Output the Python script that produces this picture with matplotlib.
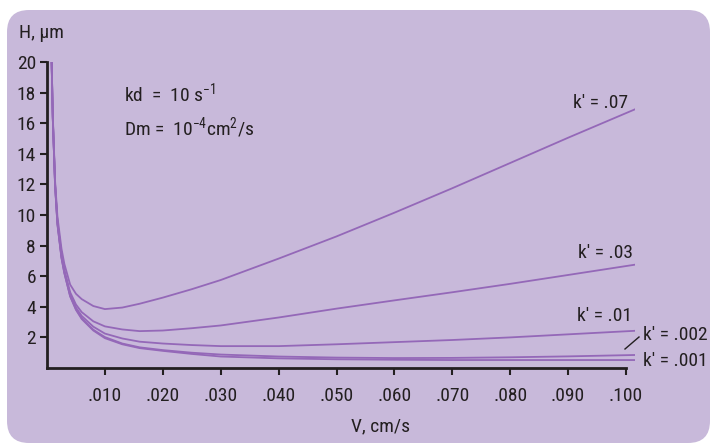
import matplotlib
matplotlib.use('Agg')
import matplotlib.pyplot as plt
from matplotlib.patches import FancyBboxPatch
from matplotlib.transforms import IdentityTransform

plt.rcParams['font.family'] = ['Roboto Condensed', 'DejaVu Sans']
plt.rcParams['mathtext.fontset'] = 'custom'
plt.rcParams['mathtext.rm'] = 'Roboto Condensed'
plt.rcParams['mathtext.default'] = 'regular'

# velocity (cm/s) at which plate height was read
v = [0.0008, 0.001, 0.0014, 0.0018, 0.0025, 0.003, 0.004, 0.005, 0.006, 0.008,
     0.010, 0.013, 0.016, 0.020, 0.025, 0.030, 0.040, 0.050, 0.060, 0.070,
     0.080, 0.090, 0.1015]

# plate height H (um) for each k'
h_07 = [20, 16.5, 12.2, 9.9, 7.8, 6.8, 5.45, 4.85, 4.5, 4.05,
        3.85, 3.95, 4.2, 4.6, 5.15, 5.75, 7.15, 8.6, 10.15, 11.75,
        13.4, 15.05, 16.9]
h_03 = [20, 16.4, 12.0, 9.6, 7.4, 6.4, 4.95, 4.15, 3.65, 3.05,
        2.72, 2.52, 2.41, 2.45, 2.6, 2.78, 3.3, 3.88, 4.42, 4.95,
        5.5, 6.08, 6.75]
h_01 = [20, 16.3, 11.9, 9.5, 7.3, 6.3, 4.8, 3.95, 3.4, 2.7,
        2.25, 1.93, 1.72, 1.6, 1.5, 1.43, 1.43, 1.55, 1.69, 1.83,
        2.0, 2.2, 2.43]
h_002 = [20, 16.3, 11.9, 9.4, 7.2, 6.2, 4.7, 3.85, 3.25, 2.5,
         2.02, 1.6, 1.35, 1.17, 1.0, 0.88, 0.75, 0.68, 0.65, 0.66,
         0.7, 0.76, 0.85]
h_001 = [20, 16.3, 11.9, 9.4, 7.2, 6.2, 4.68, 3.8, 3.2, 2.45,
         1.95, 1.55, 1.3, 1.12, 0.92, 0.75, 0.63, 0.57, 0.54, 0.52,
         0.52, 0.52, 0.52]

xticks = [0.01, 0.02, 0.03, 0.04, 0.05, 0.06, 0.07, 0.08, 0.09, 0.10]
xticklabels = ['.010', '.020', '.030', '.040', '.050', '.060', '.070', '.080', '.090', '.100']
yticks = [2, 4, 6, 8, 10, 12, 14, 16, 18, 20]

W, H = 710, 443
panel = '#c8b9da'
line_c = '#9468b8'
ink = '#231f20'

fig = plt.figure(figsize=(W / 100, H / 100), dpi=100)
fig.patch.set_facecolor('white')


def fx(x):
    return x / W


def fy(y):
    return 1 - y / H


# rounded purple panel, drawn in pixels (origin bottom-left)
fig.patches.append(FancyBboxPatch((7, 0), 703, 433,
                                  boxstyle='round,pad=0,rounding_size=22', transform=IdentityTransform(),
                                  facecolor=panel, edgecolor='none', zorder=-10))

x0, x1 = 47, 47 + 0.1015 * 5790
ax = fig.add_axes([fx(x0), fy(368), fx(x1) - fx(x0), fy(62) - fy(368)])
ax.set_facecolor('none')
ax.set_zorder(1)

for h in [h_07, h_03, h_01, h_002, h_001]:
    ax.plot(v, h, color=line_c, lw=1.3, solid_joinstyle='round')

ax.set_xlim(0, 0.1015)
ax.set_ylim(0, 20)
ax.spines['top'].set_visible(False)
ax.spines['right'].set_visible(False)
ax.spines['bottom'].set_bounds(0, 0.1)
for s in ['left', 'bottom']:
    ax.spines[s].set_color(ink)
    ax.spines[s].set_linewidth(2)
ax.set_xticks(xticks)
ax.set_xticklabels(xticklabels)
ax.set_yticks(yticks)
ax.tick_params(axis='both', colors=ink, labelsize=14, width=1.5, length=5, direction='out')
ax.tick_params(axis='x', pad=9)
ax.tick_params(axis='y', pad=3)

# text
fs = 14
fig.text(fx(19), fy(33), 'H, µm', fontsize=fs, color=ink, va='center')
fig.text(fx(381), fy(426), 'V, cm/s', fontsize=fs, color=ink, va='center', ha='center')
fig.text(fx(124), fy(93), r'kd  =  10 s$^{-1}$', fontsize=fs, color=ink, va='center')
fig.text(fx(124), fy(128), r'Dm =  10$^{-4}$cm$^{2}$/s', fontsize=fs, color=ink, va='center')

fig.text(fx(628), fy(103), "k' = .07", fontsize=fs, color=ink, va='center', ha='right')
fig.text(fx(633), fy(253), "k' = .03", fontsize=fs, color=ink, va='center', ha='right')
fig.text(fx(632), fy(316), "k' = .01", fontsize=fs, color=ink, va='center', ha='right')
fig.text(fx(708), fy(335), "k' = .002", fontsize=fs, color=ink, va='center', ha='right')
fig.text(fx(708), fy(361), "k' = .001", fontsize=fs, color=ink, va='center', ha='right')
fig.add_artist(plt.Line2D([fx(625), fx(639)], [fy(349), fy(337)], transform=fig.transFigure,
                          color=ink, lw=1))

fig.savefig('out.png', dpi=100, facecolor=fig.get_facecolor())
